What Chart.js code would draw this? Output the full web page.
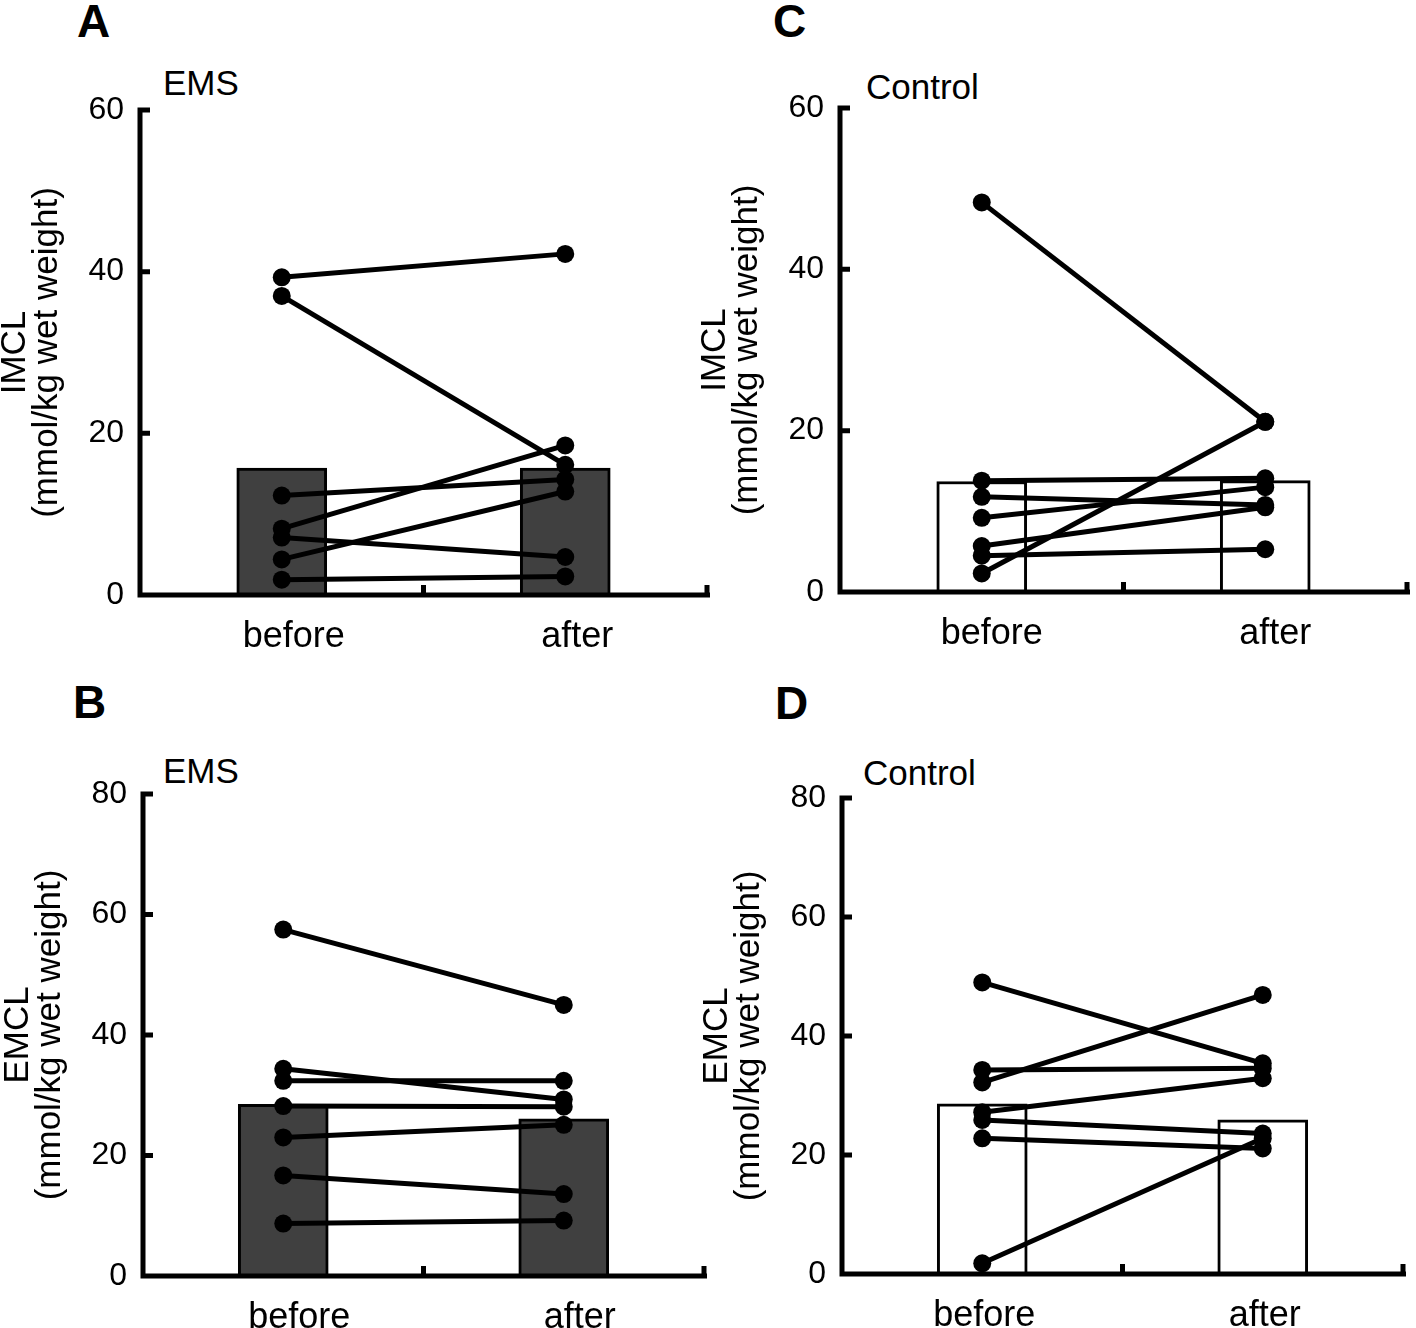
<!DOCTYPE html>
<html lang="en">
<head>
    <meta charset="UTF-8">
    <title>IMCL / EMCL before and after</title>
    <script src="https://cdn.jsdelivr.net/npm/chart.js@4.4.1/dist/chart.umd.min.js"></script>
    <style>
        html, body {
            margin: 0;
            padding: 0;
            background: #fff;
            width: 1416px;
            height: 1328px;
            overflow: hidden;
            position: relative;
            font-family: "Liberation Sans", Arial, Helvetica, sans-serif;
        }
        canvas { position: absolute; }
        .letter {
            position: absolute;
            font-size: 46px;
            font-weight: bold;
            line-height: 1;
        }
        .group {
            position: absolute;
            font-size: 35px;
            line-height: 1;
        }
    </style>
</head>
<body>
    <div class="letter" style="left:77px; top:-2px;">A</div>
    <div class="letter" style="left:73px; top:679px;">B</div>
    <div class="letter" style="left:773px; top:-2px;">C</div>
    <div class="letter" style="left:775px; top:680px;">D</div>

    <div class="group" style="left:163px; top:65px;">EMS</div>
    <div class="group" style="left:163px; top:753px;">EMS</div>
    <div class="group" style="left:866px; top:69px;">Control</div>
    <div class="group" style="left:863px; top:755px;">Control</div>

    <canvas id="panelA" width="716" height="659" style="left:0px; top:0px;"></canvas>
    <canvas id="panelC" width="716" height="656" style="left:700px; top:0px;"></canvas>
    <canvas id="panelB" width="710" height="660" style="left:3px; top:680px;"></canvas>
    <canvas id="panelD" width="710" height="658" style="left:702px; top:680px;"></canvas>

    <script>
        // categories and values
        const categories = ['before', 'after'];

        // A: IMCL, EMS
        const imclEmsMean = [15.7, 15.7];
        const imclEmsBefore = [39.3, 37.0, 12.3, 8.2, 7.1, 4.4, 1.9];
        const imclEmsAfter = [42.2, 16.1, 14.3, 18.5, 4.7, 12.8, 2.3];

        // C: IMCL, Control
        const imclCtrlMean = [13.7, 13.8];
        const imclCtrlBefore = [48.3, 2.3, 13.8, 11.8, 9.2, 5.7, 4.5];
        const imclCtrlAfter = [21.1, 21.1, 14.1, 10.8, 13.0, 10.5, 5.3];

        // B: EMCL, EMS
        const emclEmsMean = [28.5, 26.1];
        const emclEmsBefore = [57.5, 34.4, 32.4, 28.2, 23.0, 16.7, 8.7];
        const emclEmsAfter = [45.0, 29.3, 32.4, 28.1, 25.1, 13.6, 9.2];

        // D: EMCL, Control
        const emclCtrlMean = [28.6, 25.9];
        const emclCtrlBefore = [49.0, 32.2, 34.3, 27.2, 25.9, 22.8, 1.8];
        const emclCtrlAfter = [35.4, 46.9, 34.6, 32.9, 23.6, 21.1, 22.8];

        const imclTicks = [0, 20, 40, 60];
        const emclTicks = [0, 20, 40, 60, 80];

        Chart.defaults.font.family = '"Liberation Sans", Arial, Helvetica, sans-serif';
        Chart.defaults.color = '#000';

        // axis lines with inward tick marks
        const axisPlugin = {
            id: 'axisPlugin',
            afterDatasetsDraw(chart) {
                const { ctx, chartArea: a, scales: { x, y } } = chart;
                ctx.save();
                ctx.strokeStyle = '#000';
                ctx.lineWidth = 5;
                ctx.beginPath();
                ctx.moveTo(a.left, a.top - 2.5);
                ctx.lineTo(a.left, a.bottom + 2.5);
                ctx.moveTo(a.left - 2.5, a.bottom);
                ctx.lineTo(a.right + 3, a.bottom);
                y.ticks.forEach((t, i) => {
                    const py = y.getPixelForTick(i);
                    ctx.moveTo(a.left, py);
                    ctx.lineTo(a.left + 10, py);
                });
                const c0 = x.getPixelForTick(0);
                const c1 = x.getPixelForTick(1);
                const half = (c1 - c0) / 2;
                [c0 + half, c1 + half].forEach(px => {
                    ctx.moveTo(px, a.bottom);
                    ctx.lineTo(px, a.bottom - 10);
                });
                ctx.stroke();
                ctx.restore();
            }
        };

        function createPanel(id, mean, before, after, barColor, yMax, ticks, title, pad, labelShift) {
            const datasets = before.map((b, i) => ({
                type: 'line',
                data: [b, after[i]],
                borderColor: '#000',
                borderWidth: 5,
                pointRadius: 9,
                pointBackgroundColor: '#000',
                pointBorderWidth: 0,
                order: 1
            }));
            datasets.push({
                type: 'bar',
                data: mean,
                backgroundColor: barColor,
                borderColor: '#000',
                borderWidth: 3,
                barThickness: 90,
                order: 10
            });
            new Chart(document.getElementById(id), {
                type: 'bar',
                data: { labels: categories, datasets: datasets },
                options: {
                    responsive: false,
                    animation: false,
                    layout: { padding: pad },
                    plugins: {
                        legend: { display: false },
                        tooltip: { enabled: false }
                    },
                    scales: {
                        x: {
                            offset: true,
                            grid: { display: false, drawTicks: false, tickLength: 0 },
                            border: { display: false },
                            ticks: { font: { size: 36 }, padding: 20, labelOffset: labelShift, color: '#000' },
                            afterFit(scale) { scale.height = 64; }
                        },
                        y: {
                            min: 0,
                            max: yMax,
                            afterBuildTicks(scale) { scale.ticks = ticks.map(v => ({ value: v })); },
                            grid: { display: false, drawTicks: false, tickLength: 0 },
                            border: { display: false },
                            ticks: { font: { size: 32 }, padding: 16, color: '#000' },
                            title: {
                                display: true,
                                text: title,
                                font: { size: 35, lineHeight: 0.9 },
                                padding: { top: 0, bottom: 0 },
                                color: '#000'
                            },
                            afterFit(scale) { scale.width = 140; }
                        }
                    }
                },
                plugins: [axisPlugin]
            });
        }

        createPanel('panelA', imclEmsMean, imclEmsBefore, imclEmsAfter, '#404040', 60, imclTicks,
            ['IMCL', '(mmol/kg wet weight)'], { top: 110, right: 8, left: 0, bottom: 0 }, 12);
        createPanel('panelC', imclCtrlMean, imclCtrlBefore, imclCtrlAfter, '#ffffff', 60, imclTicks,
            ['IMCL', '(mmol/kg wet weight)'], { top: 108, right: 4, left: 0, bottom: 0 }, 10);
        createPanel('panelB', emclEmsMean, emclEmsBefore, emclEmsAfter, '#404040', 80, emclTicks,
            ['EMCL', '(mmol/kg wet weight)'], { top: 114, right: 6, left: 0, bottom: 0 }, 16);
        createPanel('panelD', emclCtrlMean, emclCtrlBefore, emclCtrlAfter, '#ffffff', 80, emclTicks,
            ['EMCL', '(mmol/kg wet weight)'], { top: 118, right: 6, left: 0, bottom: 0 }, 2);
    </script>
</body>
</html>
